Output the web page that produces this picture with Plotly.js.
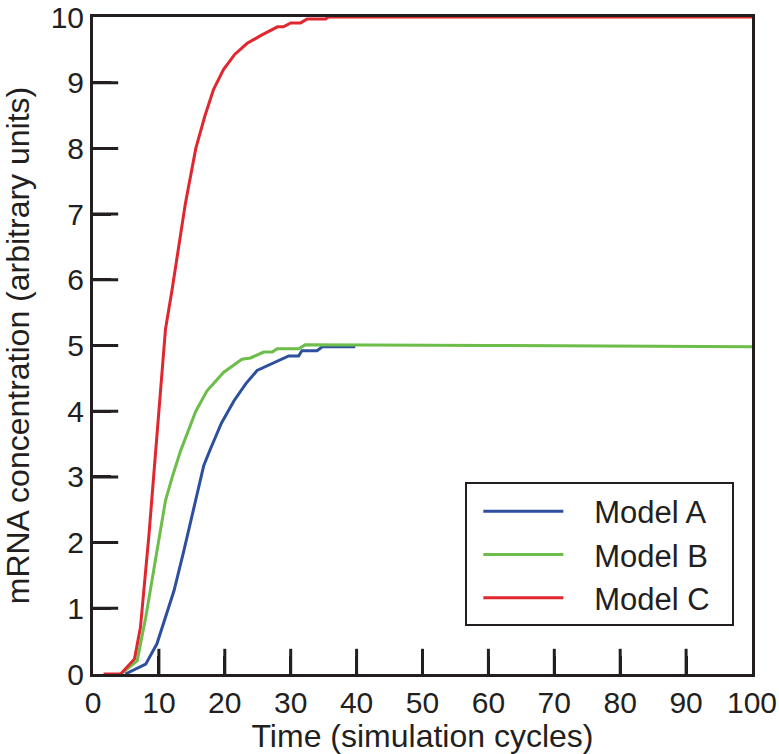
<!DOCTYPE html>
<html>
<head>
<meta charset="utf-8">
<script src="https://cdn.plot.ly/plotly-3.0.1.min.js"></script>
<style>
  body { margin: 0; background: #fff; }
  #chart { width: 779px; height: 754px; }
</style>
</head>
<body>
<div id="chart"></div>
<script>
var INK = "#231f20";
var FONT = "Liberation Sans, Arial, Helvetica, sans-serif";

// values (time in simulation cycles, mRNA in arbitrary units)
var modelATime = [4.9, 8.0, 9.7, 11.0, 12.3, 13.8, 15.6, 16.8, 17.8, 19.5, 21.4, 23.2, 24.9, 26.4, 29.7, 31.2, 31.7, 34.0, 34.8, 39.8];
var modelAConc = [0, 0.15, 0.46, 0.86, 1.27, 1.88, 2.64, 3.17, 3.42, 3.82, 4.16, 4.42, 4.62, 4.69, 4.84, 4.84, 4.92, 4.92, 4.98, 4.98];

var modelBTime = [4.2, 6.7, 8.0, 9.5, 11.0, 12.0, 13.3, 15.6, 17.3, 19.8, 22.6, 23.9, 25.9, 27.2, 27.95, 31.2, 32.2, 60, 100];
var modelBConc = [0, 0.2, 0.86, 1.72, 2.64, 2.99, 3.4, 4.0, 4.31, 4.59, 4.79, 4.81, 4.9, 4.9, 4.95, 4.95, 5.01, 5.0, 4.98];

var modelCTime = [1.6, 4.2, 6.3, 7.2, 8.5, 9.5, 10.5, 11.0, 12.0, 13.0, 14.0, 15.6, 17.0, 18.3, 19.8, 21.5, 23.4, 25.5, 28.0, 28.9, 30.0, 31.5, 32.5, 35.3, 35.7, 100];
var modelCConc = [0, 0, 0.23, 0.71, 2.13, 3.4, 4.67, 5.25, 5.85, 6.5, 7.15, 8.0, 8.5, 8.9, 9.2, 9.43, 9.6, 9.72, 9.85, 9.85, 9.91, 9.91, 9.97, 9.97, 10, 10];

var seriesNames = ["Model A", "Model B", "Model C"];
var seriesColors = ["#2d4f9e", "#6cbd4a", "#e0262f"];

// tick positions (inner ticks only, the ends sit on the frame)
var xTickVals = [10, 20, 30, 40, 50, 60, 70, 80, 90];
var yTickVals = [1, 2, 3, 4, 5, 6, 7, 8, 9];

// no-break spaces push the legend text away from the sample line
var PAD_LEFT = "\u00a0\u00a0\u00a0";
var PAD_RIGHT = "\u00a0\u00a0";

var lineTrace = function(name, x, y, color) {
  return {
    type: 'scatter',
    mode: 'lines',
    name: PAD_LEFT + name + PAD_RIGHT,
    x: x,
    y: y,
    line: { color: color, width: 3 }
  };
};

// tick marks as clipped line markers sitting on the axes (half shows inside)
var tickTrace = function(x, y, symbol) {
  return {
    type: 'scatter',
    mode: 'markers',
    x: x,
    y: y,
    showlegend: false,
    hoverinfo: 'skip',
    cliponaxis: true,
    marker: { symbol: symbol, size: 36, color: INK, line: { color: INK, width: 3 } }
  };
};

var zeros = function(arr) {
  return arr.map(function() { return 0; });
};

var data = [
  lineTrace(seriesNames[0], modelATime, modelAConc, seriesColors[0]),
  lineTrace(seriesNames[1], modelBTime, modelBConc, seriesColors[1]),
  lineTrace(seriesNames[2], modelCTime, modelCConc, seriesColors[2]),
  tickTrace(xTickVals, zeros(xTickVals), 'line-ns-open'),
  tickTrace(zeros(yTickVals), yTickVals, 'line-ew-open')
];

var axisStyle = {
  showgrid: false,
  zeroline: false,
  showline: true,
  mirror: true,
  linecolor: INK,
  linewidth: 3,
  ticks: 'inside',
  ticklen: 18,
  tickwidth: 3,
  tickcolor: INK,
  tickfont: { family: FONT, size: 30, color: INK }
};

var layout = {
  width: 779,
  height: 754,
  margin: { l: 93, r: 27, t: 17, b: 80 },
  paper_bgcolor: '#fff',
  plot_bgcolor: '#fff',
  showlegend: true,
  xaxis: Object.assign({}, axisStyle, {
    range: [0, 100],
    dtick: 10,
    title: { text: "Time (simulation cycles)", font: { family: FONT, size: 32, color: INK }, standoff: 2 }
  }),
  yaxis: Object.assign({}, axisStyle, {
    range: [0, 10],
    dtick: 1,
    title: { text: "mRNA concentration (arbitrary units)", font: { family: FONT, size: 32, color: INK }, standoff: 14 }
  }),
  legend: {
    x: 0.565,
    y: 0.2915,
    xanchor: 'left',
    yanchor: 'top',
    bordercolor: INK,
    borderwidth: 2,
    bgcolor: '#fff',
    itemwidth: 80,
    indentation: 11,
    font: { family: FONT, size: 31, color: INK }
  }
};

Plotly.newPlot("chart", data, layout, { displayModeBar: false, staticPlot: true });
</script>
</body>
</html>
